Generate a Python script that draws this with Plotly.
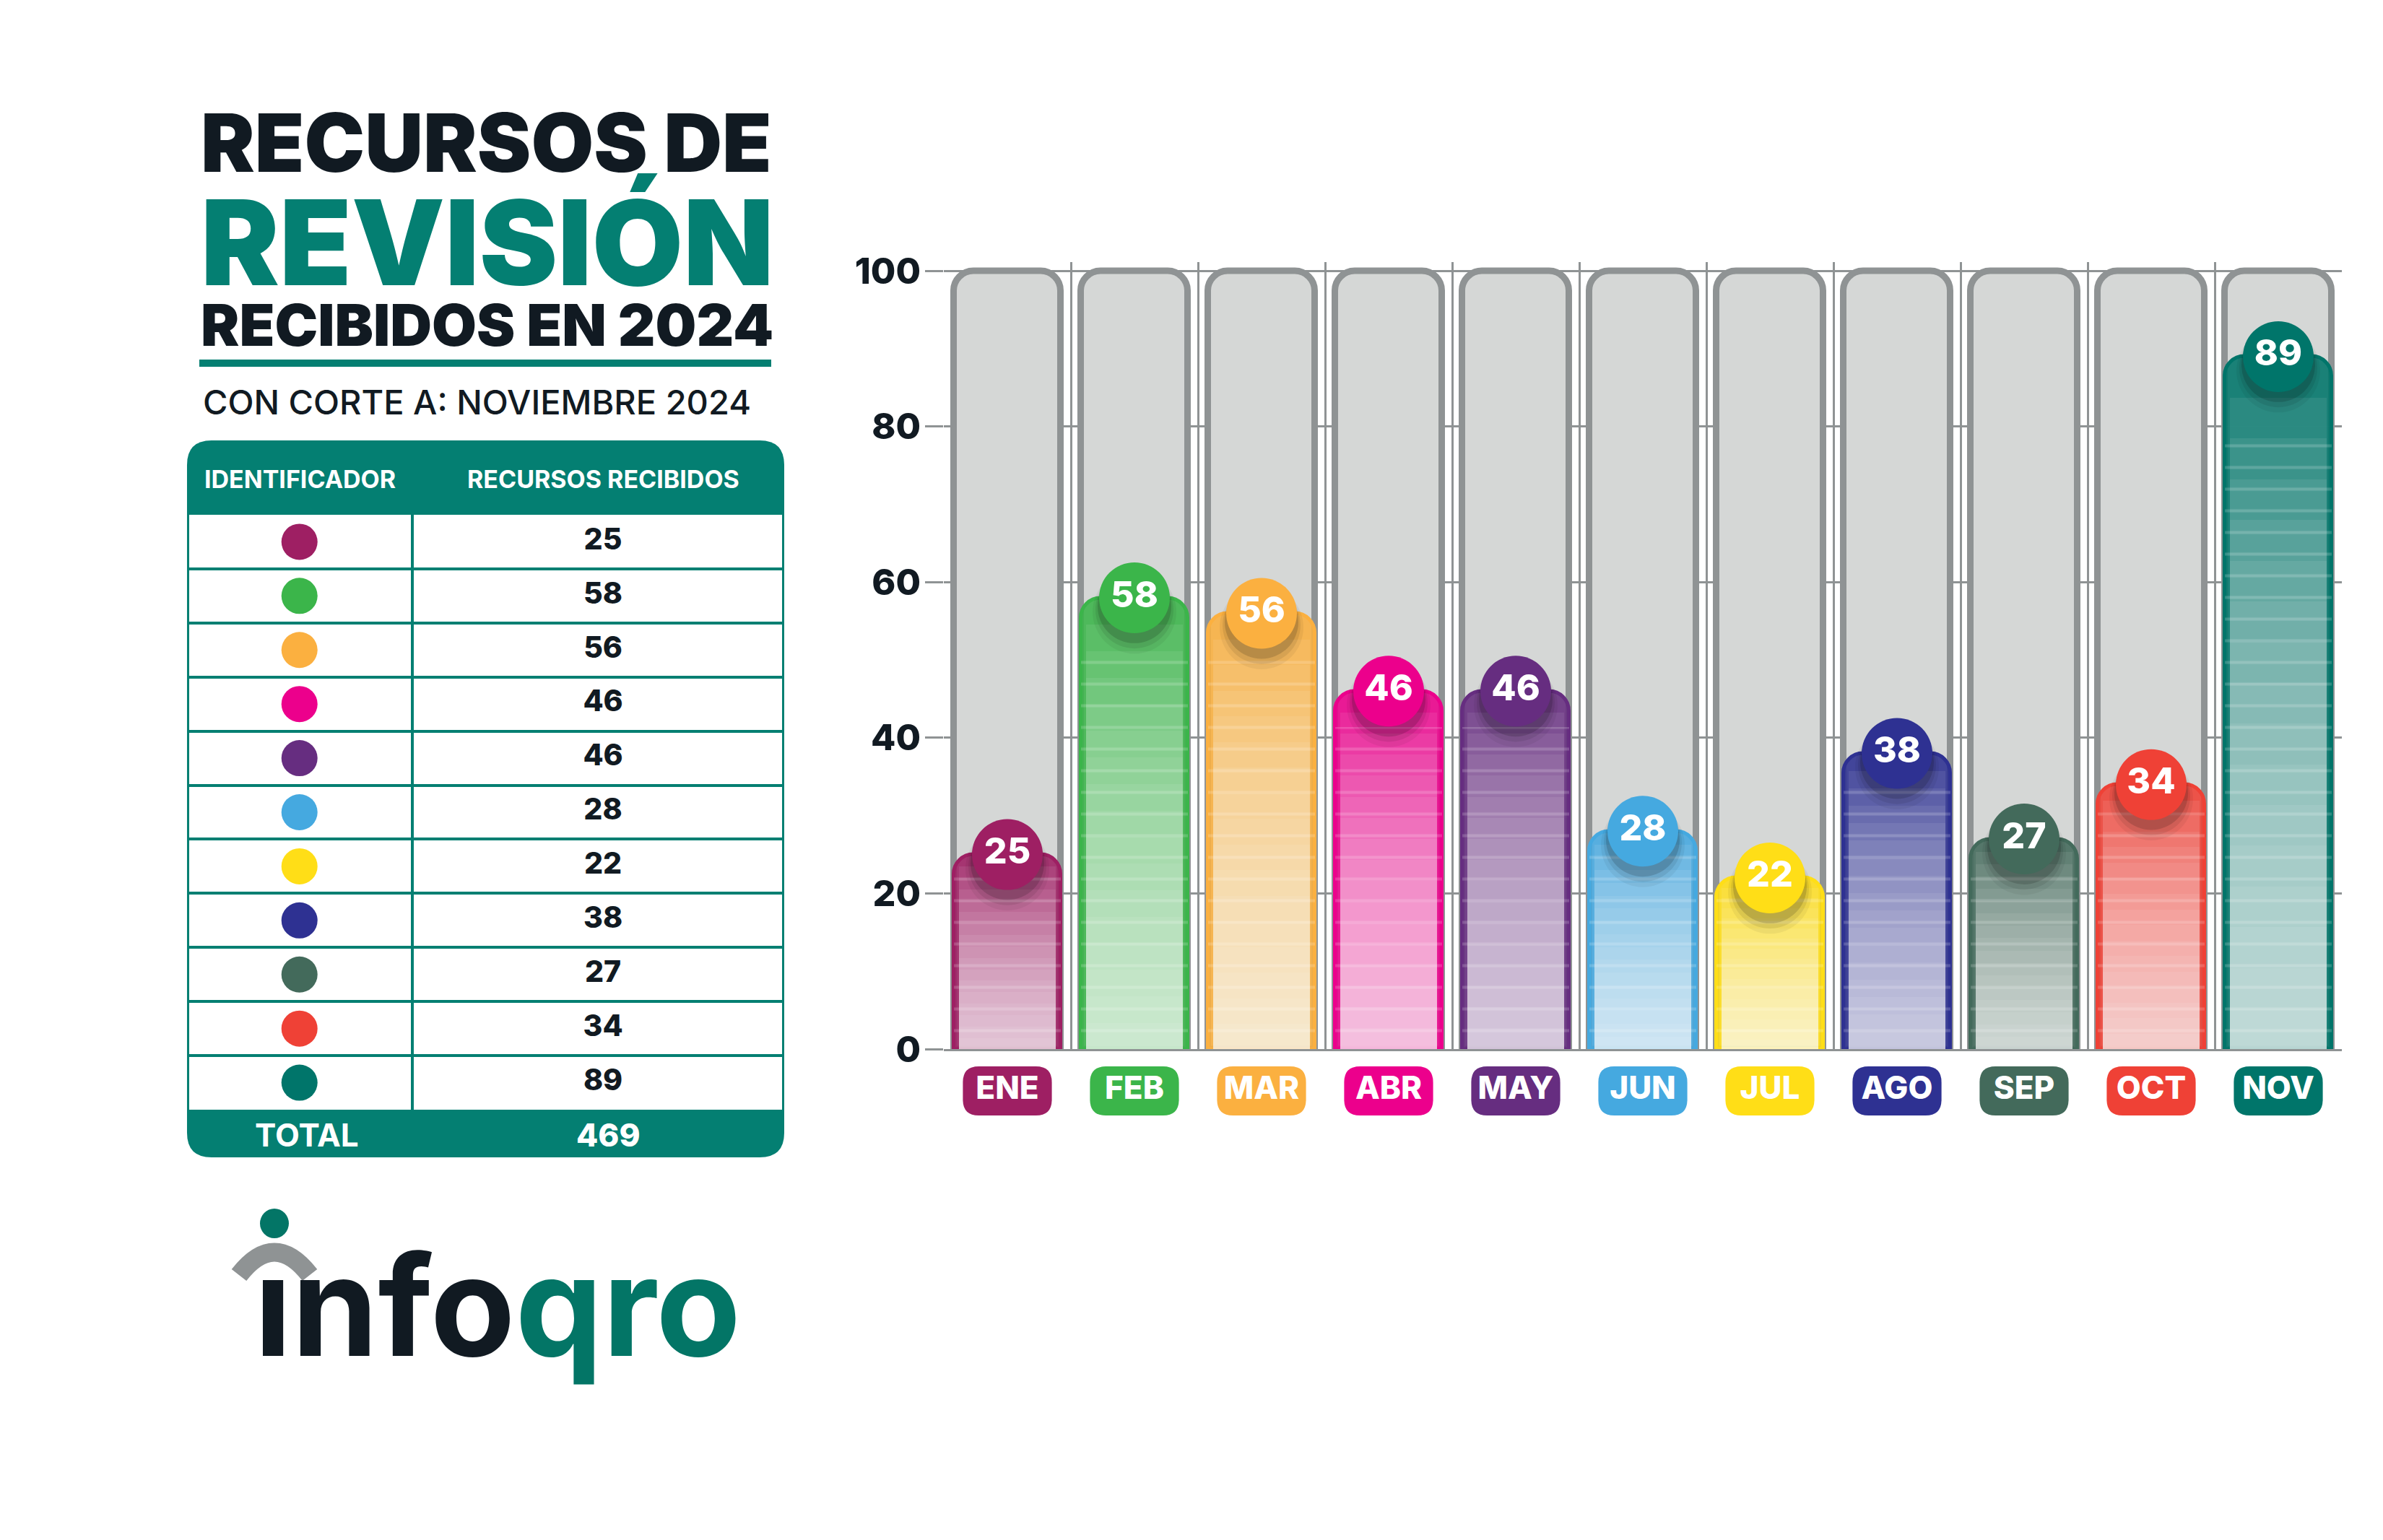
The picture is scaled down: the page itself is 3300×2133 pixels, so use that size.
import plotly.graph_objects as go

W, H = 3300, 2133

# ---------------- data ----------------
months = ["ENE", "FEB", "MAR", "ABR", "MAY", "JUN", "JUL", "AGO", "SEP", "OCT", "NOV"]
values = [25, 58, 56, 46, 46, 28, 22, 38, 27, 34, 89]
colors = ["#9E1F63", "#3BB54A", "#FBB040", "#EC008C", "#662D80", "#45A9E0",
          "#FFDE17", "#2E3192", "#436A5B", "#EF4136", "#00756A"]
y_ticks = [0, 20, 40, 60, 80, 100]
scale_max = 100
title_lines = ["RECURSOS DE", "REVISIÓN", "RECIBIDOS EN 2024"]
subtitle = "CON CORTE A: NOVIEMBRE 2024"
table_headers = ["IDENTIFICADOR", "RECURSOS RECIBIDOS"]
total_label = "TOTAL"
total_value = sum(values)

# ---------------- style ----------------
DARK = "#111A22"
TEAL = "#047F72"
LOGO_TEAL = "#037566"
GRID = "#8F9394"
TUBE = "#D5D7D6"
FONT = "Inter, Lato, 'Open Sans', sans-serif"


def px(x):
    return x / W


def py(y):
    return 1 - y / H


def rgba(hexc, a):
    h = hexc.lstrip("#")
    r, g, b = int(h[0:2], 16), int(h[2:4], 16), int(h[4:6], 16)
    return f"rgba({r},{g},{b},{a})"


def rr_path(x0, y0, x1, y1, rx, ry):
    """rounded rectangle path (x0<x1, y0<y1 in whatever units)."""
    return (f"M {x0 + rx:.5f},{y0:.5f} L {x1 - rx:.5f},{y0:.5f} "
            f"Q {x1:.5f},{y0:.5f} {x1:.5f},{y0 + ry:.5f} L {x1:.5f},{y1 - ry:.5f} "
            f"Q {x1:.5f},{y1:.5f} {x1 - rx:.5f},{y1:.5f} L {x0 + rx:.5f},{y1:.5f} "
            f"Q {x0:.5f},{y1:.5f} {x0:.5f},{y1 - ry:.5f} L {x0:.5f},{y0 + ry:.5f} "
            f"Q {x0:.5f},{y0:.5f} {x0 + rx:.5f},{y0:.5f} Z")


fig = go.Figure()

# ---------------- main chart ----------------
# background tubes (full scale) on y
fig.add_trace(go.Bar(
    x=months, y=[scale_max] * len(months), width=0.84,
    marker=dict(color=TUBE, line=dict(color=GRID, width=9), cornerradius=28),
    hoverinfo="skip"))

# coloured bars on overlaying axis y4 (same scale)
fig.add_trace(go.Bar(
    x=months, y=values, width=0.84, yaxis="y4",
    marker=dict(color=[rgba(c, 0.88) for c in colors],
                line=dict(color=colors, width=5), cornerradius=28),
    hoverinfo="skip"))

# white layers giving a vertical gradient (lighter toward the base)
N = 16
for k in range(1, N + 1):
    fig.add_trace(go.Bar(
        x=months, y=[v * k / (N + 1) for v in values], width=0.76, yaxis="y4",
        marker=dict(color="rgba(255,255,255,0.078)", line=dict(width=0)),
        hoverinfo="skip"))

# subtle stripes
fig.add_trace(go.Bar(
    x=months, y=[v * 0.9 for v in values], width=0.84, yaxis="y4",
    marker=dict(color="rgba(0,0,0,0)", line=dict(width=0),
                pattern=dict(shape="-", fgcolor="white", fgopacity=0.18, size=30, solidity=0.14)),
    hoverinfo="skip"))

# badge shadow
for s, a, off in [(116, 0.05, 1.8), (108, 0.08, 1.5), (102, 0.14, 1.1)]:
    fig.add_trace(go.Scatter(
        x=months, y=[v - off for v in values], mode="markers", yaxis="y4",
        marker=dict(size=s, color=f"rgba(0,0,0,{a})", line=dict(width=0)),
        hoverinfo="skip"))

# value badges
fig.add_trace(go.Scatter(
    x=months, y=values, mode="markers+text", yaxis="y4",
    text=[str(v) for v in values], textposition="middle center",
    textfont=dict(family=FONT, size=50, color="white", weight=800),
    marker=dict(size=98, color=colors, line=dict(width=0)),
    hoverinfo="skip"))

# month labels (own axes under the chart; pills are shapes on the same axes)
fig.add_trace(go.Scatter(
    x=months, y=[0.5] * len(months), mode="text", text=months,
    textposition="middle center", xaxis="x2", yaxis="y2",
    textfont=dict(family=FONT, size=44, color="white", weight=800), hoverinfo="skip"))

# ---------------- table ----------------
rows = list(range(len(months)))
fig.add_trace(go.Scatter(
    x=[0.186] * len(months), y=rows, mode="markers", xaxis="x3", yaxis="y3",
    marker=dict(size=50, color=colors, line=dict(width=0)), hoverinfo="skip"))
fig.add_trace(go.Scatter(
    x=[0.698] * len(months), y=rows, mode="text", text=[str(v) for v in values],
    textposition="middle center", xaxis="x3", yaxis="y3",
    textfont=dict(family=FONT, size=41, color=DARK, weight=800), hoverinfo="skip"))

shapes = [
    dict(type="path", xref="paper", yref="paper", layer="below",
         path=rr_path(px(259), py(1603), px(1086), py(610), px(34), 34 / H),
         fillcolor=TEAL, line=dict(width=0)),
    dict(type="rect", xref="paper", yref="paper", layer="below",
         x0=px(262), x1=px(1083), y0=py(1537), y1=py(713), fillcolor="white", line=dict(width=0)),
    # title underline
    dict(type="rect", xref="paper", yref="paper", layer="below",
         x0=px(276), x1=px(1068), y0=py(508), y1=py(498), fillcolor=TEAL, line=dict(width=0)),
    # logo head
    dict(type="circle", xref="paper", yref="paper", layer="above",
         x0=px(360), x1=px(400), y0=py(1715), y1=py(1674), fillcolor=LOGO_TEAL, line=dict(width=0)),
    # logo shoulders
    dict(type="path", xref="paper", yref="paper", layer="above",
         path=f"M {px(331):.5f},{py(1766):.5f} Q {px(380):.5f},{py(1703):.5f} {px(429):.5f},{py(1766):.5f}",
         line=dict(color=GRID, width=26)),
]
# month pills
slot_px = (3243 - 1307) / len(months)
pill_w = 0.70
pill_h_px = 68
for i, c in enumerate(colors):
    shapes.append(dict(
        type="path", xref="x2", yref="y2", layer="below",
        path=rr_path(i - pill_w / 2, 0, i + pill_w / 2, 1, 22 / slot_px, 22 / pill_h_px),
        fillcolor=c, line=dict(width=0)))

annotations = []
# titles
for text, cy, size, color in [(title_lines[0], 197, 112, DARK),
                              (title_lines[1], 335, 163, TEAL),
                              (title_lines[2], 450, 80, DARK)]:
    annotations.append(dict(x=px(276), y=py(cy), xref="paper", yref="paper",
                            xanchor="left", yanchor="middle", showarrow=False, text=text,
                            font=dict(family=FONT, size=size, color=color, weight=900)))
annotations.append(dict(x=px(279), y=py(556), xref="paper", yref="paper",
                        xanchor="left", yanchor="middle", showarrow=False, text=subtitle,
                        font=dict(family=FONT, size=47, color=DARK, weight=500)))
# table header / total
for text, cx in [(table_headers[0], 415), (table_headers[1], 835)]:
    annotations.append(dict(x=px(cx), y=py(664), xref="paper", yref="paper",
                            xanchor="center", yanchor="middle", showarrow=False, text=text,
                            font=dict(family=FONT, size=34, color="white", weight=700)))
annotations.append(dict(x=px(425), y=py(1572), xref="paper", yref="paper",
                        xanchor="center", yanchor="middle", showarrow=False, text=total_label,
                        font=dict(family=FONT, size=44, color="white", weight=700)))
annotations.append(dict(x=px(843), y=py(1572), xref="paper", yref="paper",
                        xanchor="center", yanchor="middle", showarrow=False, text=str(total_value),
                        font=dict(family=FONT, size=44, color="white", weight=800)))
# logo text
annotations.append(dict(x=px(350), y=py(1808), xref="paper", yref="paper",
                        xanchor="left", yanchor="middle", showarrow=False,
                        text=f'<span style="color:{DARK}">ınfo</span><span style="color:{LOGO_TEAL}">qro</span>',
                        font=dict(family=FONT, size=192, color=DARK, weight=700)))

y_range = [0, 101.2]
fig.update_layout(
    width=W, height=H, autosize=False,
    margin=dict(l=0, r=0, t=0, b=0, pad=0, autoexpand=False),
    paper_bgcolor="white", plot_bgcolor="rgba(0,0,0,0)",
    showlegend=False, barmode="overlay", bargap=0,
    shapes=shapes, annotations=annotations,
    xaxis=dict(domain=[px(1307), px(3243)], type="category", categoryorder="array",
               categoryarray=months, range=[-0.5, len(months) - 0.5],
               showgrid=True, gridcolor=GRID, gridwidth=2.5, tickson="boundaries",
               showticklabels=False, ticks="", showline=True, linecolor=GRID, linewidth=2.5,
               zeroline=False, fixedrange=True, automargin=False),
    yaxis=dict(domain=[py(1453), py(362.5)], range=y_range, tickvals=y_ticks,
               showgrid=True, gridcolor=GRID, gridwidth=2.5, ticks="outside", ticklen=25,
               tickcolor=GRID, tickwidth=2.5, ticklabelstandoff=-4,
               tickfont=dict(family=FONT, size=50, color=DARK, weight=800),
               showline=False, zeroline=False, fixedrange=True, automargin=False),
    yaxis4=dict(overlaying="y", anchor="x", range=y_range, visible=False,
                showgrid=False, zeroline=False, fixedrange=True, automargin=False),
    xaxis2=dict(domain=[px(1307), px(3243)], type="category", categoryorder="array",
                categoryarray=months, range=[-0.5, len(months) - 0.5], visible=False,
                anchor="y2", automargin=False),
    yaxis2=dict(domain=[py(1545), py(1477)], range=[0, 1], visible=False, anchor="x2",
                automargin=False),
    xaxis3=dict(domain=[px(262), px(1083)], range=[0, 1], tickvals=[0.376],
                showgrid=True, gridcolor=TEAL, gridwidth=4, showticklabels=False, ticks="",
                zeroline=False, showline=False, anchor="y3", automargin=False),
    yaxis3=dict(domain=[py(1537), py(713)], range=[len(months) - 0.5, -0.5],
                tickvals=[i + 0.5 for i in range(len(months) - 1)],
                showgrid=True, gridcolor=TEAL, gridwidth=4, showticklabels=False, ticks="",
                zeroline=False, showline=False, anchor="x3", automargin=False),
)

fig.write_html("out.html")
